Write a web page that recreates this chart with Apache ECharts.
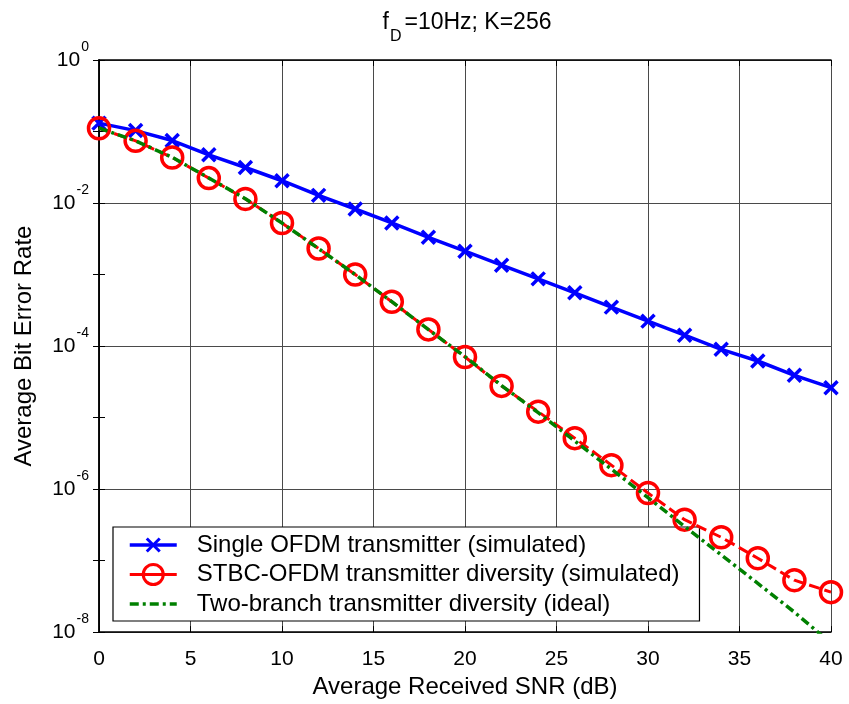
<!DOCTYPE html>
<html>
<head>
<meta charset="utf-8">
<script src="https://cdn.jsdelivr.net/npm/echarts@6/dist/echarts.min.js"></script>
<style>
  html, body { margin: 0; padding: 0; background: #fff; }
  #chart { width: 849px; height: 704px; }
</style>
</head>
<body>
<div id="chart"></div>
<script>
const snrDb = [0, 2, 4, 6, 8, 10, 12, 14, 16, 18, 20, 22, 24, 26, 28, 30, 32, 34, 36, 38, 40]

const singleBer = [0.131, 0.103, 0.0748, 0.0472, 0.0314, 0.0205, 0.0128, 0.00825, 0.00526, 0.00332,
  0.00212, 0.00135, 8.7e-4, 5.55e-4, 3.5e-4, 2.23e-4, 1.42e-4, 9.0e-5, 6.18e-5, 3.9e-5, 2.62e-5]

const stbcBer = [0.111, 0.074, 0.0433, 0.0223, 0.0114, 0.00526, 0.00231, 1.0e-3, 4.16e-4, 1.71e-4,
  7.03e-5, 2.77e-5, 1.21e-5, 5.15e-6, 2.16e-6, 8.8e-7, 3.73e-7, 2.12e-7, 1.08e-7, 5.32e-8, 3.62e-8]

const idealBer = [0.112, 0.074, 0.0436, 0.0224, 0.0115, 0.00525, 0.0023, 1.0e-3, 4.17e-4, 1.7e-4,
  7.1e-5, 2.8e-5, 1.17e-5, 4.7e-6, 1.9e-6, 7.6e-7, 3.0e-7, 1.2e-7, 4.8e-8, 1.9e-8, 7.0e-9]

const seriesNames = [
  'Single OFDM transmitter (simulated)',
  'STBC-OFDM transmitter diversity (simulated)',
  'Two-branch transmitter diversity (ideal)',
]

const FONT = '"Liberation Sans", Arial, Helvetica, sans-serif'
const gridColor = '#4a4a4a'
// x marker with some empty margin so the legend icon stays small
const crossSymbol = 'path://M-2.7,-2.7M0,0L10,10M10,0L0,10M12.7,12.7'

function pairs(ys) {
  return snrDb.map((x, i) => [x, ys[i]])
}

function powLabel(v) {
  const e = Math.round(Math.log10(v))
  return '{b|10}{e|' + e + '}'
}

const chart = echarts.init(document.getElementById('chart'))

const boxAxisLine = { show: true, lineStyle: { color: '#000', width: 1.5 } }
const inTick = { show: true, inside: true, length: 6, lineStyle: { color: '#000' } }

chart.setOption({
  animation: false,
  backgroundColor: '#fff',
  textStyle: { fontFamily: FONT },
  title: {
    text: '{t|f}{s|D}{t|=10Hz; K=256}',
    left: 467,
    textAlign: 'center',
    top: 11,
    padding: 0,
    textStyle: {
      rich: {
        t: { fontSize: 23, fontFamily: FONT, fontWeight: 'normal', color: '#000', lineHeight: 23 },
        s: { fontSize: 16, fontFamily: FONT, fontWeight: 'normal', color: '#000', lineHeight: 16, padding: [28, 3, 0, 1] },
      },
    },
  },
  grid: { left: 99, right: 18, top: 60, bottom: 69, containLabel: false },
  legend: {
    orient: 'vertical',
    left: 113,
    top: 527,
    padding: [6, 20, 5, 15],
    itemWidth: 47,
    itemHeight: 25,
    itemGap: 5.5,
    backgroundColor: '#fff',
    borderColor: '#000',
    borderWidth: 1.2,
    borderRadius: 0,
    textStyle: { fontSize: 24, fontFamily: FONT, color: '#000', padding: [0, 0, 0, 15] },
    data: [
      { name: seriesNames[0], itemStyle: { borderWidth: 3 }, lineStyle: { width: 3.5 } },
      { name: seriesNames[1], itemStyle: { borderWidth: 3 }, lineStyle: { width: 3, type: 'solid' } },
      {
        name: seriesNames[2],
        itemStyle: { color: 'rgba(0,0,0,0)', borderColor: 'rgba(0,0,0,0)', borderWidth: 0 },
        lineStyle: { width: 3.5 },
      },
    ],
  },
  xAxis: [
    {
      type: 'value',
      min: 0,
      max: 40,
      interval: 5,
      name: 'Average Received SNR (dB)',
      nameLocation: 'middle',
      nameGap: 38,
      nameTextStyle: { fontSize: 24, color: '#000' },
      axisLine: boxAxisLine,
      axisTick: inTick,
      axisLabel: { fontSize: 21, color: '#000', margin: 17 },
      splitLine: { show: true, lineStyle: { color: gridColor, width: 1 } },
    },
    {
      type: 'value',
      position: 'top',
      min: 0,
      max: 40,
      interval: 5,
      axisLine: boxAxisLine,
      axisTick: inTick,
      axisLabel: { show: false },
      splitLine: { show: false },
    },
  ],
  yAxis: [
    {
      type: 'log',
      logBase: 10,
      min: 1e-8,
      max: 1,
      interval: 2,
      name: 'Average Bit Error Rate',
      nameLocation: 'middle',
      nameGap: 63,
      nameTextStyle: { fontSize: 24, color: '#000' },
      axisLine: boxAxisLine,
      axisTick: inTick,
      axisLabel: {
        margin: 10,
        formatter: powLabel,
        rich: {
          b: { fontSize: 21, fontFamily: FONT, color: '#000', lineHeight: 21 },
          e: { fontSize: 14, fontFamily: FONT, color: '#000', lineHeight: 14, padding: [0, 0, 25, 1] },
        },
      },
      splitLine: { show: true, lineStyle: { color: gridColor, width: 1 } },
    },
    {
      type: 'log',
      logBase: 10,
      min: 1e-8,
      max: 1,
      interval: 1,
      position: 'right',
      axisLine: boxAxisLine,
      axisTick: inTick,
      axisLabel: { show: false },
      splitLine: { show: false },
    },
    {
      type: 'log',
      logBase: 10,
      min: 1e-8,
      max: 1,
      interval: 1,
      position: 'left',
      axisLine: { show: false },
      axisTick: inTick,
      axisLabel: { show: false },
      splitLine: { show: false },
    },
  ],
  series: [
    {
      name: seriesNames[0],
      type: 'line',
      data: pairs(singleBer),
      symbol: crossSymbol,
      symbolSize: 20,
      lineStyle: { color: '#0000ff', width: 3.5 },
      itemStyle: { color: '#0000ff', borderColor: '#0000ff', borderWidth: 3.5 },
      z: 3,
    },
    {
      name: seriesNames[1],
      type: 'line',
      data: pairs(stbcBer),
      symbol: 'circle',
      symbolSize: 21,
      lineStyle: { color: '#ff0000', width: 3, type: [11, 5] },
      itemStyle: { color: 'rgba(255,255,255,0)', borderColor: '#ff0000', borderWidth: 3.5 },
      z: 4,
    },
    {
      name: seriesNames[2],
      type: 'line',
      data: pairs(idealBer),
      symbol: 'none',
      clip: true,
      lineStyle: { color: '#008000', width: 3.5, type: [9, 4, 3, 4] },
      itemStyle: { color: '#008000' },
      z: 5,
    },
  ],
})
</script>
</body>
</html>
